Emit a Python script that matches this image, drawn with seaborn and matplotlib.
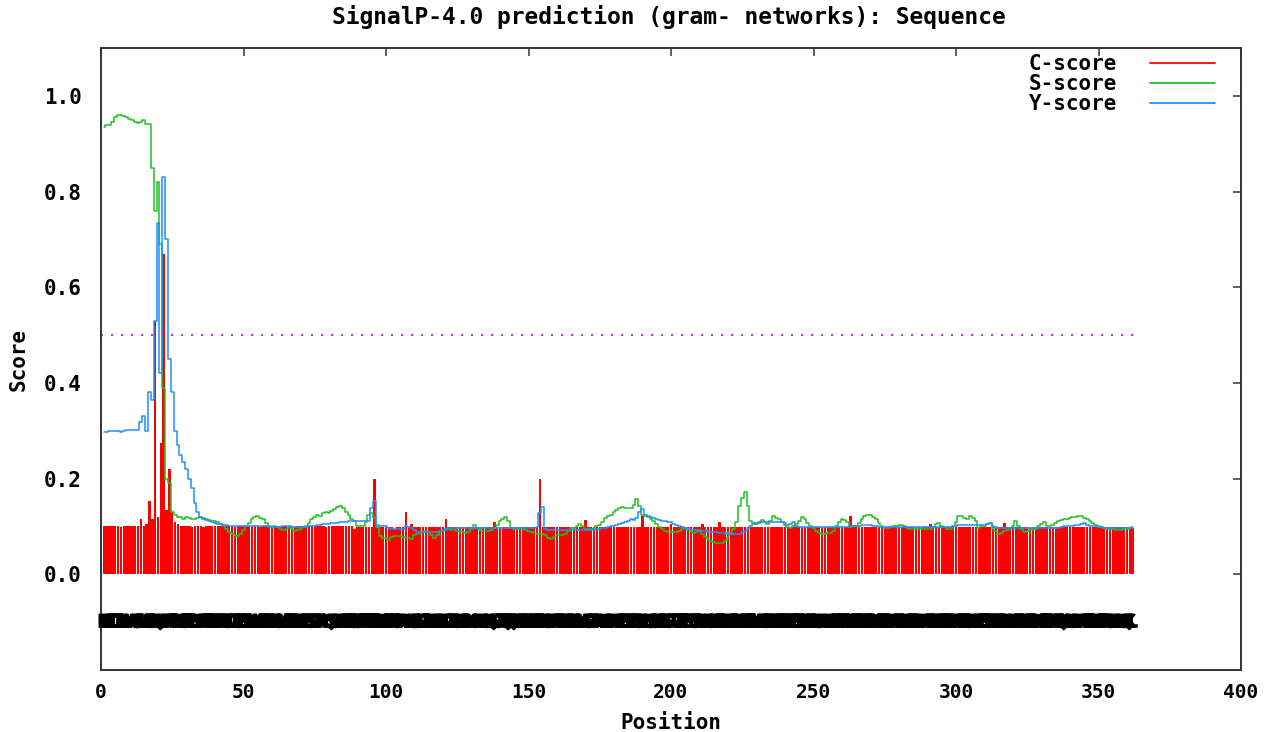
import numpy as np
import matplotlib
matplotlib.use("Agg")
import matplotlib.pyplot as plt
import matplotlib.patheffects as pe
from matplotlib.lines import Line2D
import seaborn as sns

# ---- data (one value per sequence position) ----
sequence = (
    "MKKTLIALAV" "AGSLLAFSAQ" "AADNTLKVGT" "TPDYPPFEFK" "DENGKLTGFD" "IDLANAIAEK"
    "LGLKAEFVPM" "PFDSLIPALQ" "SGKVDLIISG" "MTITEERKKA" "IDFSDPYYKS" "GLVILVKKDN"
    "KDIKSVADLK" "GKKVGVQSGT" "TQEQWLKENA" "PEAEVKSYPN" "FNAALLDLKA" "GRIDAVVADK"
    "VVLEYYIKSN" "PDSGLKIVGD" "TVTPEHYGIA" "VKKGNKELLD" "KINKALEELK" "ADGTYAKIYE"
    "KWFGTAPAEA" "ASAAPAAEAT" "TAPAEEKKEA" "PKAEEAPAAE" "AKPAEAAPAA" "EPAKEAEKPA"
    "AETGAAAVEE" "TKAPEAAPAK" "DEAVKEAPKA" "ETPAAEQKAD" "SAPAATEAKK" "EEAGKPADSQ"
    "KL"
)

c_score = [
    0.100, 0.100, 0.100, 0.100, 0.100, 0.100, 0.098, 0.100, 0.100, 0.100,
    0.100, 0.100, 0.100, 0.116, 0.100, 0.105, 0.153, 0.115, 0.530, 0.120,
    0.275, 0.670, 0.135, 0.220, 0.130, 0.110, 0.105, 0.100, 0.100, 0.100,
    0.100, 0.098, 0.100, 0.100, 0.100, 0.098, 0.100, 0.100, 0.100, 0.100,
    0.100, 0.100, 0.100, 0.102, 0.100, 0.100, 0.098, 0.100, 0.100, 0.100,
    0.100, 0.100, 0.100, 0.100, 0.100, 0.098, 0.100, 0.100, 0.100, 0.100,
    0.100, 0.100, 0.100, 0.100, 0.100, 0.100, 0.100, 0.098, 0.100, 0.100,
    0.100, 0.100, 0.100, 0.100, 0.100, 0.100, 0.100, 0.100, 0.098, 0.100,
    0.100, 0.100, 0.100, 0.100, 0.100, 0.100, 0.100, 0.100, 0.095, 0.098,
    0.098, 0.098, 0.098, 0.098, 0.098, 0.200, 0.098, 0.098, 0.098, 0.098,
    0.098, 0.098, 0.095, 0.098, 0.098, 0.098, 0.130, 0.098, 0.105, 0.098,
    0.098, 0.098, 0.098, 0.098, 0.098, 0.098, 0.098, 0.098, 0.098, 0.098,
    0.115, 0.098, 0.098, 0.098, 0.098, 0.098, 0.098, 0.098, 0.098, 0.098,
    0.098, 0.098, 0.098, 0.098, 0.098, 0.098, 0.098, 0.110, 0.098, 0.098,
    0.098, 0.098, 0.098, 0.098, 0.098, 0.098, 0.098, 0.098, 0.098, 0.098,
    0.098, 0.098, 0.098, 0.200, 0.098, 0.098, 0.098, 0.098, 0.098, 0.098,
    0.098, 0.098, 0.098, 0.098, 0.098, 0.098, 0.098, 0.098, 0.098, 0.113,
    0.098, 0.098, 0.098, 0.098, 0.098, 0.098, 0.098, 0.098, 0.098, 0.098,
    0.098, 0.098, 0.098, 0.098, 0.098, 0.098, 0.098, 0.098, 0.098, 0.122,
    0.098, 0.098, 0.098, 0.098, 0.098, 0.098, 0.098, 0.098, 0.098, 0.105,
    0.098, 0.098, 0.098, 0.098, 0.098, 0.098, 0.098, 0.098, 0.098, 0.098,
    0.105, 0.098, 0.098, 0.098, 0.098, 0.098, 0.110, 0.098, 0.098, 0.098,
    0.098, 0.098, 0.098, 0.098, 0.098, 0.098, 0.098, 0.098, 0.098, 0.098,
    0.098, 0.098, 0.098, 0.098, 0.098, 0.098, 0.098, 0.098, 0.098, 0.098,
    0.098, 0.098, 0.098, 0.098, 0.098, 0.098, 0.098, 0.098, 0.098, 0.098,
    0.098, 0.098, 0.098, 0.098, 0.098, 0.098, 0.098, 0.098, 0.098, 0.098,
    0.098, 0.098, 0.122, 0.098, 0.098, 0.098, 0.098, 0.098, 0.098, 0.098,
    0.098, 0.098, 0.098, 0.098, 0.098, 0.098, 0.098, 0.098, 0.098, 0.098,
    0.098, 0.098, 0.098, 0.098, 0.098, 0.098, 0.098, 0.098, 0.098, 0.098,
    0.105, 0.098, 0.098, 0.098, 0.098, 0.098, 0.098, 0.098, 0.098, 0.098,
    0.098, 0.098, 0.098, 0.098, 0.098, 0.098, 0.098, 0.098, 0.098, 0.098,
    0.098, 0.098, 0.098, 0.098, 0.098, 0.098, 0.107, 0.098, 0.098, 0.098,
    0.098, 0.098, 0.098, 0.098, 0.098, 0.098, 0.098, 0.098, 0.098, 0.098,
    0.098, 0.098, 0.098, 0.098, 0.098, 0.098, 0.098, 0.098, 0.098, 0.098,
    0.098, 0.098, 0.098, 0.098, 0.098, 0.098, 0.098, 0.098, 0.098, 0.098,
    0.098, 0.098, 0.098, 0.098, 0.098, 0.098, 0.098, 0.098, 0.098, 0.098,
    0.096, 0.096,
]

s_score = [
    0.935, 0.940, 0.940, 0.945, 0.955, 0.960, 0.960, 0.958, 0.955, 0.952,
    0.950, 0.945, 0.943, 0.945, 0.950, 0.942, 0.942, 0.850, 0.760, 0.820,
    0.690, 0.390, 0.200, 0.190, 0.130, 0.125, 0.120, 0.120, 0.115, 0.120,
    0.118, 0.115, 0.115, 0.118, 0.120, 0.118, 0.115, 0.113, 0.112, 0.112,
    0.110, 0.105, 0.100, 0.095, 0.088, 0.085, 0.082, 0.080, 0.085, 0.092,
    0.100, 0.108, 0.115, 0.120, 0.122, 0.118, 0.115, 0.108, 0.102, 0.098,
    0.100, 0.098, 0.095, 0.092, 0.095, 0.098, 0.094, 0.090, 0.092, 0.095,
    0.098, 0.102, 0.108, 0.115, 0.120, 0.125, 0.122, 0.128, 0.130, 0.128,
    0.132, 0.136, 0.140, 0.142, 0.138, 0.130, 0.123, 0.115, 0.111, 0.102,
    0.101, 0.101, 0.110, 0.125, 0.128, 0.118, 0.098, 0.080, 0.075, 0.075,
    0.071, 0.078, 0.080, 0.080, 0.080, 0.078, 0.076, 0.076, 0.073, 0.083,
    0.085, 0.086, 0.088, 0.090, 0.088, 0.083, 0.075, 0.082, 0.090, 0.092,
    0.093, 0.094, 0.093, 0.093, 0.090, 0.088, 0.088, 0.087, 0.088, 0.095,
    0.103, 0.097, 0.093, 0.090, 0.090, 0.090, 0.093, 0.097, 0.104, 0.111,
    0.116, 0.120, 0.112, 0.097, 0.095, 0.095, 0.096, 0.095, 0.093, 0.091,
    0.089, 0.087, 0.085, 0.085, 0.085, 0.082, 0.076, 0.073, 0.078, 0.082,
    0.082, 0.083, 0.085, 0.090, 0.097, 0.097, 0.100, 0.105, 0.100, 0.094,
    0.094, 0.094, 0.096, 0.100, 0.104, 0.110, 0.118, 0.122, 0.125, 0.130,
    0.135, 0.139, 0.140, 0.138, 0.138, 0.138, 0.145, 0.158, 0.142, 0.125,
    0.122, 0.119, 0.116, 0.111, 0.106, 0.099, 0.094, 0.090, 0.088, 0.088,
    0.088, 0.088, 0.090, 0.094, 0.096, 0.092, 0.090, 0.087, 0.088, 0.092,
    0.084, 0.078, 0.073, 0.070, 0.068, 0.066, 0.066, 0.066, 0.070, 0.078,
    0.085, 0.095, 0.109, 0.143, 0.160, 0.171, 0.143, 0.111, 0.108, 0.105,
    0.108, 0.114, 0.110, 0.105, 0.112, 0.121, 0.118, 0.116, 0.110, 0.104,
    0.098, 0.096, 0.100, 0.105, 0.112, 0.119, 0.115, 0.108, 0.102, 0.096,
    0.090, 0.086, 0.084, 0.085, 0.086, 0.087, 0.090, 0.100, 0.110, 0.116,
    0.114, 0.110, 0.099, 0.100, 0.102, 0.108, 0.115, 0.122, 0.124, 0.125,
    0.120, 0.115, 0.108, 0.100, 0.096, 0.097, 0.098, 0.100, 0.101, 0.104,
    0.104, 0.102, 0.096, 0.094, 0.094, 0.094, 0.094, 0.094, 0.094, 0.094,
    0.094, 0.098, 0.105, 0.107, 0.102, 0.098, 0.094, 0.094, 0.100, 0.110,
    0.122, 0.122, 0.118, 0.115, 0.122, 0.118, 0.112, 0.097, 0.100, 0.102,
    0.105, 0.108, 0.094, 0.090, 0.085, 0.087, 0.090, 0.093, 0.097, 0.101,
    0.111, 0.100, 0.094, 0.088, 0.090, 0.092, 0.094, 0.095, 0.100, 0.105,
    0.109, 0.102, 0.100, 0.104, 0.108, 0.111, 0.113, 0.115, 0.116, 0.118,
    0.119, 0.120, 0.122, 0.121, 0.118, 0.116, 0.112, 0.108, 0.104, 0.100,
    0.098, 0.096, 0.095, 0.094, 0.094, 0.093, 0.093, 0.093, 0.094, 0.094,
    0.096, 0.099,
]

y_score = [
    0.298, 0.298, 0.299, 0.299, 0.300, 0.300, 0.298, 0.300, 0.301, 0.301,
    0.301, 0.301, 0.302, 0.318, 0.330, 0.300, 0.380, 0.365, 0.530, 0.735,
    0.420, 0.830, 0.700, 0.450, 0.380, 0.300, 0.270, 0.250, 0.235, 0.220,
    0.200, 0.180, 0.150, 0.130, 0.120, 0.115, 0.113, 0.112, 0.110, 0.108,
    0.106, 0.105, 0.104, 0.103, 0.102, 0.102, 0.101, 0.100, 0.100, 0.100,
    0.100, 0.100, 0.101, 0.101, 0.101, 0.100, 0.100, 0.100, 0.099, 0.099,
    0.099, 0.099, 0.099, 0.100, 0.100, 0.100, 0.099, 0.098, 0.098, 0.098,
    0.098, 0.099, 0.100, 0.101, 0.102, 0.103, 0.104, 0.105, 0.106, 0.106,
    0.107, 0.108, 0.108, 0.109, 0.110, 0.110, 0.111, 0.111, 0.111, 0.111,
    0.111, 0.111, 0.111, 0.112, 0.139, 0.153, 0.104, 0.102, 0.102, 0.102,
    0.097, 0.094, 0.094, 0.094, 0.094, 0.094, 0.101, 0.098, 0.096, 0.092,
    0.089, 0.089, 0.089, 0.089, 0.089, 0.089, 0.089, 0.089, 0.089, 0.090,
    0.095, 0.097, 0.097, 0.097, 0.097, 0.097, 0.097, 0.097, 0.097, 0.097,
    0.097, 0.097, 0.097, 0.097, 0.097, 0.097, 0.097, 0.097, 0.097, 0.097,
    0.097, 0.097, 0.097, 0.097, 0.097, 0.097, 0.097, 0.097, 0.097, 0.097,
    0.097, 0.097, 0.098, 0.129, 0.140, 0.094, 0.093, 0.092, 0.092, 0.092,
    0.092, 0.092, 0.092, 0.092, 0.092, 0.092, 0.092, 0.092, 0.092, 0.092,
    0.092, 0.092, 0.093, 0.094, 0.095, 0.096, 0.097, 0.099, 0.100, 0.102,
    0.104, 0.106, 0.108, 0.110, 0.112, 0.115, 0.114, 0.118, 0.130, 0.136,
    0.125, 0.121, 0.120, 0.118, 0.116, 0.114, 0.112, 0.111, 0.110, 0.109,
    0.106, 0.104, 0.101, 0.099, 0.097, 0.095, 0.093, 0.092, 0.092, 0.091,
    0.090, 0.090, 0.089, 0.089, 0.088, 0.088, 0.087, 0.087, 0.086, 0.086,
    0.085, 0.085, 0.085, 0.085, 0.088, 0.091, 0.094, 0.102, 0.105, 0.107,
    0.109, 0.109, 0.109, 0.109, 0.109, 0.109, 0.109, 0.109, 0.109, 0.107,
    0.104, 0.106, 0.110, 0.100, 0.099, 0.098, 0.098, 0.098, 0.098, 0.098,
    0.098, 0.098, 0.098, 0.098, 0.098, 0.098, 0.098, 0.098, 0.098, 0.098,
    0.098, 0.099, 0.100, 0.100, 0.101, 0.102, 0.103, 0.104, 0.104, 0.104,
    0.102, 0.100, 0.099, 0.099, 0.099, 0.099, 0.099, 0.099, 0.099, 0.099,
    0.099, 0.099, 0.099, 0.099, 0.099, 0.099, 0.099, 0.099, 0.099, 0.099,
    0.098, 0.098, 0.098, 0.098, 0.098, 0.098, 0.098, 0.098, 0.100, 0.102,
    0.104, 0.104, 0.104, 0.104, 0.104, 0.104, 0.104, 0.104, 0.104, 0.104,
    0.106, 0.107, 0.102, 0.099, 0.097, 0.097, 0.097, 0.097, 0.097, 0.097,
    0.097, 0.097, 0.097, 0.097, 0.097, 0.097, 0.097, 0.097, 0.097, 0.097,
    0.097, 0.097, 0.097, 0.097, 0.097, 0.097, 0.098, 0.100, 0.102, 0.102,
    0.102, 0.103, 0.103, 0.105, 0.107, 0.103, 0.102, 0.101, 0.100, 0.099,
    0.098, 0.097, 0.097, 0.097, 0.097, 0.097, 0.097, 0.097, 0.096, 0.096,
    0.096, 0.096,
]

cutoff = 0.5
x_ticks = [0, 50, 100, 150, 200, 250, 300, 350, 400]
y_ticks = [0.0, 0.2, 0.4, 0.6, 0.8, 1.0]

RED, GREEN, BLUE, MAGENTA = "#ff0000", "#22c022", "#2090ff", "#d726ff"
MONO = "DejaVu Sans Mono"

sns.set_theme(style="white")
plt.rcParams["font.family"] = [MONO, "DejaVu Sans"]
plt.rcParams["font.weight"] = "bold"
plt.rcParams["text.color"] = "black"
plt.rcParams["axes.labelcolor"] = "black"

fig = plt.figure(figsize=(12.81, 7.32), dpi=100)
ax = fig.add_axes([101 / 1281, 62 / 732, 1140 / 1281, 622 / 732])

pos_c = np.arange(1, len(c_score) + 1)
pos_s = np.arange(1, len(s_score) + 1)
pos_y = np.arange(1, len(y_score) + 1)

sns.barplot(x=pos_c, y=c_score, native_scale=True, color=RED, saturation=1,
            width=0.85, linewidth=0, errorbar=None, ax=ax)
sns.lineplot(x=pos_s, y=s_score, color=GREEN, lw=1.1, drawstyle="steps-mid", ax=ax)
sns.lineplot(x=pos_y, y=y_score, color=BLUE, lw=1.1, drawstyle="steps-mid", ax=ax)

# cutoff line
ax.plot([0, len(sequence) + 1], [cutoff, cutoff], color=MAGENTA, lw=1.5,
        linestyle=(0, (1, 3.8)))

# sequence letters under the plot (they overlap into a dark band, as in the original)
for i, ch in enumerate(sequence):
    ax.text(i + 1, -0.1, ch, ha="center", va="center", fontsize=12.5,
            fontweight="bold", family=MONO, color="black", clip_on=False,
            path_effects=[pe.withStroke(linewidth=1.2, foreground="black")])

ax.set_xlim(0, 400)
ax.set_ylim(-0.2, 1.1)
ax.set_xticks(x_ticks)
ax.set_xticklabels([str(t) for t in x_ticks])
ax.set_yticks(y_ticks)
ax.set_yticklabels(["%.1f" % t for t in y_ticks])
ax.tick_params(axis="both", direction="in", length=6, width=1.1, color="#333333",
               top=True, right=True, labelsize=14, labelcolor="black")
ax.tick_params(axis="x", pad=9)
ax.tick_params(axis="y", pad=14, labelsize=15)
for sp in ax.spines.values():
    sp.set_color("#333333")
    sp.set_linewidth(1.4)
    sp.set_visible(True)

ax.set_xlabel("Position", fontsize=15, fontweight="bold", labelpad=8)
ax.set_ylabel("Score", fontsize=15, fontweight="bold", labelpad=11)

fig.text(669 / 1281, 1 - 17 / 732, "SignalP-4.0 prediction (gram- networks): Sequence",
         ha="center", va="center", fontsize=16.5, fontweight="bold", family=MONO)

handles = [Line2D([], [], color=RED, lw=1.3),
           Line2D([], [], color=GREEN, lw=1.3),
           Line2D([], [], color=BLUE, lw=1.3)]
ax.legend(handles, ["C-score", "S-score", "Y-score"], loc="upper right",
          bbox_to_anchor=(1215 / 1281, 1 - 54 / 732), bbox_transform=fig.transFigure,
          frameon=False, markerfirst=False, prop={"family": MONO, "weight": "bold", "size": 15},
          handlelength=3.1, handletextpad=1.6, labelspacing=0.0, borderpad=0,
          borderaxespad=0)

fig.savefig("out.png", dpi=100)
